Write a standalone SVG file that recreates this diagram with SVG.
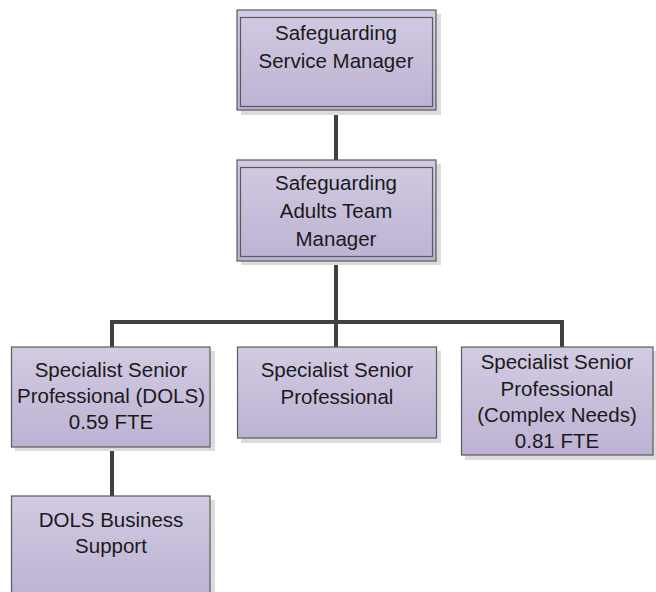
<svg xmlns="http://www.w3.org/2000/svg" width="656" height="592" viewBox="0 0 656 592">
<defs>
<linearGradient id="g" x1="0" y1="0" x2="0" y2="1">
<stop offset="0" stop-color="#d2cbe2"/>
<stop offset="1" stop-color="#bdb2d3"/>
</linearGradient>
<style>
.box{fill:url(#g);stroke:#5a5a5a;stroke-width:1.2}
.inner{fill:none;stroke:#5a5a5a;stroke-width:1.2}
.sh{fill:#dcdcdc}
.t{font-family:"Liberation Sans",Arial,sans-serif;font-size:20.5px;fill:#1a1a1a;text-anchor:middle}
.c{stroke:#404040;stroke-width:4;fill:none}
</style>
</defs>
<rect width="656" height="592" fill="#ffffff"/>
<g id="connectors">
<line class="c" x1="336" y1="110" x2="336" y2="161"/>
<line class="c" x1="336" y1="261" x2="336" y2="322"/>
<polyline class="c" points="112,347 112,322 562,322 562,347"/>
<line class="c" x1="336" y1="322" x2="336" y2="347"/>
<line class="c" x1="112" y1="447" x2="112" y2="496"/>
</g>
<g id="n1">
<rect class="sh" x="241" y="14" width="200" height="101"/>
<rect class="box" x="237" y="10" width="199" height="100"/>
<rect class="inner" x="240.5" y="17.5" width="192" height="89"/>
<text class="t" x="336" y="40">Safeguarding</text>
<text class="t" x="336" y="68">Service Manager</text>
</g>
<g id="n2">
<rect class="sh" x="241" y="164" width="200" height="101"/>
<rect class="box" x="237" y="160" width="199" height="101"/>
<rect class="inner" x="240.5" y="167.5" width="192" height="89"/>
<text class="t" x="336" y="190">Safeguarding</text>
<text class="t" x="336" y="218">Adults Team</text>
<text class="t" x="336" y="246">Manager</text>
</g>
<g id="n3">
<rect class="sh" x="15" y="351" width="200" height="100"/>
<rect class="box" x="11.5" y="347" width="198.5" height="100"/>
<text class="t" x="111" y="377">Specialist Senior</text>
<text class="t" x="111" y="403">Professional (DOLS)</text>
<text class="t" x="111" y="429">0.59 FTE</text>
</g>
<g id="n4">
<rect class="sh" x="241" y="351" width="200" height="92"/>
<rect class="box" x="237.5" y="347" width="199" height="91"/>
<text class="t" x="337" y="377">Specialist Senior</text>
<text class="t" x="337" y="404">Professional</text>
</g>
<g id="n5">
<rect class="sh" x="465" y="351" width="191" height="109"/>
<rect class="box" x="461.5" y="347" width="191.5" height="108"/>
<text class="t" x="557" y="369">Specialist Senior</text>
<text class="t" x="557" y="396">Professional</text>
<text class="t" x="557" y="422">(Complex Needs)</text>
<text class="t" x="557" y="448">0.81 FTE</text>
</g>
<g id="n6">
<rect class="sh" x="15" y="500" width="200" height="100"/>
<rect class="box" x="11.5" y="496" width="198.5" height="100"/>
<text class="t" x="111" y="527">DOLS Business</text>
<text class="t" x="111" y="553">Support</text>
</g>
</svg>
